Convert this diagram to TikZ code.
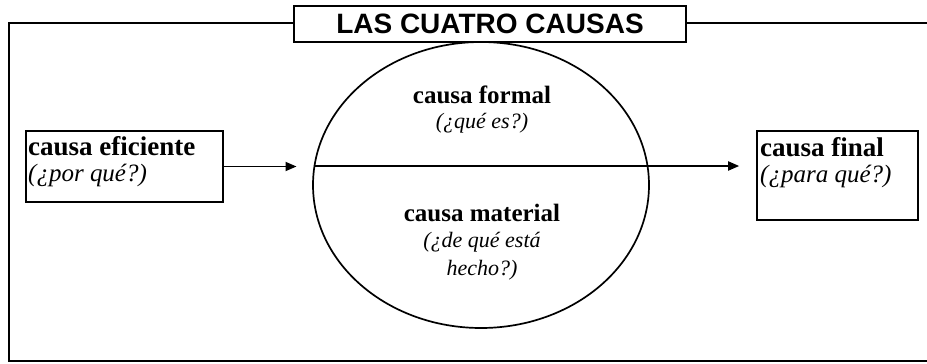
\documentclass[tikz,border=0pt]{standalone}
\usepackage{fontspec}
\setmainfont{Liberation Serif}
\newfontfamily\titlefont{Liberation Sans}
\usetikzlibrary{shapes,arrows.meta,positioning,calc}

\tikzset{
  frame/.style={draw, line width=2.4pt},
  causebox/.style={draw, line width=1.6pt, inner sep=0pt},
  boxname/.style={anchor=base west, inner sep=0pt, font=\fontsize{27}{30}\selectfont\bfseries},
  boxquest/.style={anchor=base west, inner sep=0pt, font=\fontsize{25}{28}\selectfont\itshape},
  ellname/.style={inner sep=0pt, font=\fontsize{25}{28}\selectfont\bfseries},
  ellquest/.style={inner sep=0pt, align=center, font=\fontsize{22}{28}\selectfont\itshape},
  arr/.style={-{Triangle[length=11pt,width=9pt]}, line width=1.8pt},
}

\begin{document}
\begin{tikzpicture}[x=1pt,y=-1pt]
    \useasboundingbox (0,0) rectangle (927,364);

    % Frame
    \draw[frame] (9,23) rectangle (945,361);

    % Formal and material cause
    \node[draw, ellipse, line width=1.7pt, minimum width=336pt, minimum height=286pt, inner sep=0pt] (causas) at (481,185) {};
    \coordinate (divl) at ($(causas.center)+(-166.5,-19)$);
    \coordinate (divr) at ($(causas.center)+(166.5,-19)$);
    \draw[line width=2.2pt] (divl) -- (divr);
    \node[ellname] (formal) at (482,95) {causa formal};
    \node[ellquest] (formalq) at (482,123) {(¿qué es?)};
    \node[ellname] (material) at (482,213) {causa material};
    \node[ellquest] (materialq) at (482,256) {(¿de qué está\\hecho?)};

    % Title
    \node[frame, line width=2pt, fill=white, minimum width=392pt, minimum height=36pt, inner sep=0pt,
          font=\titlefont\fontsize{28}{30}\selectfont\bfseries] (title) at (490,24) {LAS CUATRO CAUSAS};

    % Efficient and final cause
    \node[causebox, minimum width=197pt, minimum height=71pt] (eficiente) at (124.5,166.5) {};
    \node[boxname] (eficientename) at (28,155) {causa eficiente};
    \node[boxquest] (eficienteq) at (28,181) {(¿por qué?)};
    \node[causebox, minimum width=161pt, minimum height=89pt] (final) at (837.5,175.5) {};
    \node[boxname] (finalname) at (760,156) {causa final};
    \node[boxquest] (finalq) at (760,182) {(¿para qué?)};

    \draw[arr, shorten >=18pt] (eficiente) -- (eficiente -| divl);
    \draw[arr, shorten >=17pt] (divr) -- (divr -| final.west);
\end{tikzpicture}
\end{document}
